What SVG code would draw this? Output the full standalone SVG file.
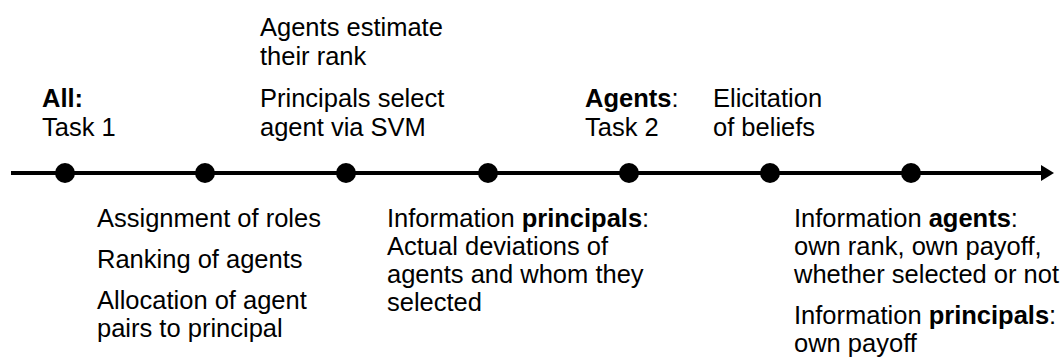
<svg xmlns="http://www.w3.org/2000/svg" width="1064" height="363" viewBox="0 0 1064 363">
<style>
text{font-family:"Liberation Sans",Arial,sans-serif;font-size:25.5px;fill:#000}
.b{font-weight:bold}
.dot{fill:#000}
</style>
<rect width="1064" height="363" fill="#fff"/>
<g id="connectors">
<line x1="11" y1="173" x2="1043" y2="173" stroke="#000" stroke-width="4"/>
<polygon points="1041,165 1054,173 1041,181" fill="#000"/>
</g>
<g id="dots">
<circle class="dot" cx="65" cy="173" r="10"/>
<circle class="dot" cx="205" cy="173" r="10"/>
<circle class="dot" cx="346" cy="173" r="10"/>
<circle class="dot" cx="488" cy="173" r="10"/>
<circle class="dot" cx="629" cy="173" r="10"/>
<circle class="dot" cx="770" cy="173" r="10"/>
<circle class="dot" cx="911" cy="173" r="10"/>
</g>
<g id="n1"><text x="42" y="107"><tspan class="b">All:</tspan></text><text x="42" y="136">Task 1</text></g>
<g id="n3"><text x="260" y="36">Agents estimate</text><text x="260" y="65">their rank</text><text x="260" y="107">Principals select</text><text x="260" y="136">agent via SVM</text></g>
<g id="n5"><text x="585" y="107"><tspan class="b">Agents</tspan>:</text><text x="585" y="136">Task 2</text></g>
<g id="n6"><text x="713" y="107">Elicitation</text><text x="713" y="136">of beliefs</text></g>
<g id="n2"><text x="97" y="227">Assignment of roles</text><text x="97" y="268">Ranking of agents</text><text x="97" y="309">Allocation of agent</text><text x="97" y="337">pairs to principal</text></g>
<g id="n4"><text x="387" y="227">Information <tspan class="b">principals</tspan>:</text><text x="387" y="255">Actual deviations of</text><text x="387" y="283">agents and whom they</text><text x="387" y="311">selected</text></g>
<g id="n7"><text x="794" y="227">Information <tspan class="b">agents</tspan>:</text><text x="794" y="255">own rank, own payoff,</text><text x="794" y="283">whether selected or not</text><text x="794" y="324">Information <tspan class="b">principals</tspan>:</text><text x="794" y="352">own payoff</text></g>
</svg>
